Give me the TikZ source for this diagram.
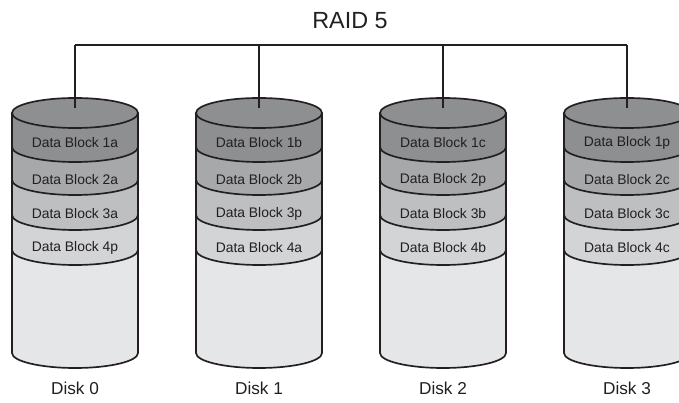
\documentclass[tikz,border=0pt]{standalone}
\usepackage{fontspec}
\setmainfont{Liberation Sans}
\usepackage{tikz}

\definecolor{blockA}{HTML}{8E8F91}
\definecolor{blockB}{HTML}{A7A8AA}
\definecolor{blockC}{HTML}{BEBFC1}
\definecolor{blockD}{HTML}{D3D4D6}
\definecolor{diskbody}{HTML}{E5E6E7}
\definecolor{inktext}{HTML}{231F20}

\tikzset{
  disk/.style={draw=inktext, line width=0.95pt},
  blocktext/.style={font=\fontsize{7.9}{9}\selectfont, text=inktext},
  disklabel/.style={font=\fontsize{9.8}{12}\selectfont, text=inktext},
  bus/.style={draw=inktext, line width=0.8pt},
}

\begin{document}
\begin{tikzpicture}[x=0.02cm,y=0.02cm]
    \useasboundingbox (0,0) rectangle (679,402);
    \clip (0,0) rectangle (679,402);

    % Title
    \node[font=\fontsize{13.3}{16}\selectfont, text=inktext] (title) at (350,381) {RAID 5};

    % Disks, drawn from the bottom band up
    \foreach \i/\cx/\one/\two/\three/\four in {0/75/1a/2a/3a/4p, 1/259/1b/2b/3p/4a, 2/443/1c/2p/3b/4b, 3/627/1p/2c/3c/4c} {
        \filldraw[disk, fill=diskbody] (\cx-63,289) -- (\cx-63,49)
            arc[start angle=180, end angle=360, x radius=63, y radius=15] -- (\cx+63,289);
        \foreach \y/\c in {152/blockD, 187/blockC, 222/blockB, 255/blockA} {
            \filldraw[disk, fill=\c] (\cx-63,289) -- (\cx-63,\y)
                arc[start angle=180, end angle=360, x radius=63, y radius=15] -- (\cx+63,289);
        }
        \filldraw[disk, fill=blockA] (\cx,289) ellipse[x radius=63, y radius=15];

        % Block labels
        \node[blocktext] (blk\i a) at (\cx,259) {Data Block \one};
        \node[blocktext] (blk\i b) at (\cx,222) {Data Block \two};
        \node[blocktext] (blk\i c) at (\cx,188) {Data Block \three};
        \node[blocktext] (blk\i d) at (\cx,154) {Data Block \four};

        % Disk name
        \node[disklabel] (disk\i) at (\cx,14) {Disk \i};

        % Bus drop
        \coordinate (bus\i) at (\cx,357);
        \coordinate (top\i) at (\cx,294);
        \draw[bus] (bus\i) -- (top\i);
    }

    % Bus
    \draw[bus] (bus0) -- (bus3);
\end{tikzpicture}
\end{document}
